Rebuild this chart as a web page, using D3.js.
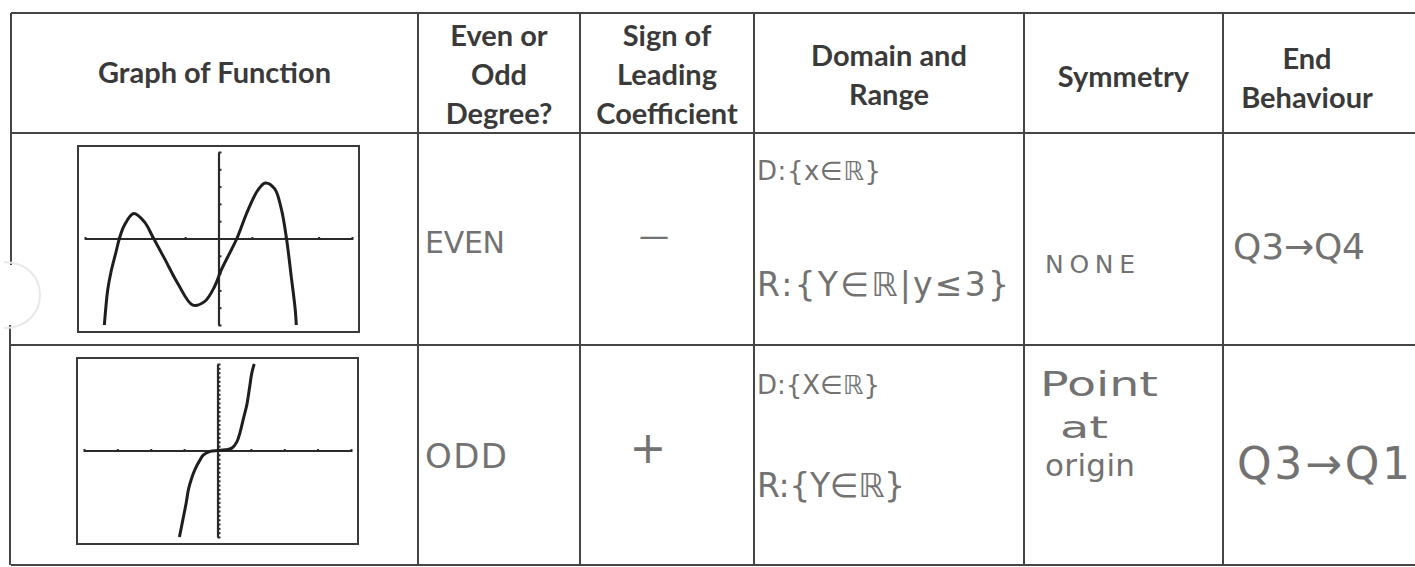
<html>
<head>
<script src="https://d3js.org/d3.v7.min.js"></script>
<style>
  body {margin:0; background:#fff;}
  .head {font-family: Lato, "Open Sans", sans-serif; font-weight:bold; font-size:29px; fill:#3a3a3a; text-anchor:middle;}
  .hand {font-family: "DejaVu Sans", sans-serif; font-weight:normal; fill:#727272;}
  .grid {stroke:#454545; stroke-width:2;}
</style>
</head>
<body>
<svg id="chart" width="1415" height="567"></svg>
<script>
// column headers (one entry per line)
var headers = [
  ["Graph of Function"],
  ["Even or", "Odd", "Degree?"],
  ["Sign of", "Leading", "Coefficient"],
  ["Domain and", "Range"],
  ["Symmetry"],
  ["End", "Behaviour"]
];

// handwritten answers, row 1 then row 2
var degree = ["EVEN", "ODD"];
var sign = ["\u2014", "+"];
var domainTxt = ["D:{x\u2208\u211D}", "D:{X\u2208\u211D}"];
var rangeTxt = ["R:{Y\u2208\u211D|y\u22643}", "R:{Y\u2208\u211D}"];
var symmetry = [["NONE"], ["Point", "at", "origin"]];
var endBehaviour = ["Q3\u2192Q4", "Q3\u2192Q1"];

// points (x, y in window units)
var quarticPts = [[-3.42,-5],[-3.32,-2.98],[-3.22,-1.92],[-3.07,-0.77],[-2.97,0],[-2.82,0.77],
  [-2.54,1.44],[-2.22,0.96],[-1.97,0.1],[-1.62,-1.15],[-1.22,-2.6],[-0.77,-3.85],[-0.42,-3.65],
  [-0.12,-2.79],[0.08,-1.83],[0.38,-0.67],[0.55,0],[0.88,1.63],[1.18,2.79],[1.4,3.21],
  [1.68,2.88],[1.88,1.73],[2.03,0.1],[2.18,-2.2],[2.3,-4.13],[2.33,-5]];
var cubicPts = [[-1.14,-20],[-1.04,-16.1],[-0.94,-12.2],[-0.87,-9],[-0.77,-6.3],[-0.67,-4.3],
  [-0.54,-2.4],[-0.42,-1],[-0.22,-0.2],[0,0],[0.23,0.15],[0.43,0.55],[0.58,2],[0.68,4.3],
  [0.78,7.5],[0.88,10.6],[0.96,14.5],[1.03,18],[1.1,20]];

// calculator windows
var xWin = [-4, 4];
var yWin1 = [-5, 5];
var yWin2 = [-20, 20];

var svg = d3.select("#chart");

// table layout
var cols = [11, 418, 580, 754, 1024, 1223, 1420];
var rows = [13, 133, 345, 565];

svg.append("rect").attr("width",1415).attr("height",567).attr("fill","#fff");

// horizontal rules
rows.forEach(function(y){
  svg.append("line").attr("class","grid").attr("x1",cols[0]).attr("x2",1415).attr("y1",y).attr("y2",y);
});
// inner vertical rules
cols.slice(1,6).forEach(function(x){
  svg.append("line").attr("class","grid").attr("x1",x).attr("x2",x).attr("y1",rows[0]).attr("y2",rows[3]);
});
// left border, broken by the punch hole
svg.append("line").attr("class","grid").attr("x1",11).attr("x2",11).attr("y1",13).attr("y2",265);
svg.append("line").attr("class","grid").attr("x1",10).attr("x2",10).attr("y1",325).attr("y2",565);
var hole = d3.path();
hole.moveTo(4,262);
hole.bezierCurveTo(52,262,52,328,4,328);
svg.append("path").attr("d",hole.toString()).attr("fill","none").attr("stroke","#e8e8e8").attr("stroke-width",2);

// headers
var headBase = [[83],[46,85,124],[46,85,124],[66,105],[87],[69,108]];
headers.forEach(function(lines,i){
  var cx = (cols[i] + cols[i+1]) / 2;
  if (i == 5) cx = 1307;
  lines.forEach(function(t,j){
    svg.append("text").attr("class","head").attr("x",cx).attr("y",headBase[i][j]).text(t);
  });
});

// calculator graphs
function drawGraph(box, yWin, yTick, pts) {
  var g = svg.append("g");
  g.append("rect").attr("x",box.x).attr("y",box.y).attr("width",box.w).attr("height",box.h)
    .attr("fill","#fff").attr("stroke","#3a3a3a").attr("stroke-width",2);
  var x = d3.scaleLinear().domain(xWin).range([box.x+7, box.x+box.w-7]);
  var y = d3.scaleLinear().domain(yWin).range([box.y+box.h-7, box.y+6]);

  var xAxis = d3.axisBottom(x).tickValues(d3.range(xWin[0], xWin[1]+1, 1)).tickSize(3).tickSizeOuter(0).tickFormat("");
  var ya = g.append("g").attr("transform","translate(0,"+y(0)+")").call(xAxis);
  var yAxis = d3.axisRight(y).tickValues(d3.range(yWin[0], yWin[1]+yTick, yTick)).tickSize(3).tickSizeOuter(0).tickFormat("");
  var yb = g.append("g").attr("transform","translate("+x(0)+",0)").call(yAxis);
  [ya, yb].forEach(function(a){
    a.select(".domain").attr("stroke","#2a2a2a").attr("stroke-width",2.2);
    a.selectAll(".tick line").attr("stroke","#2a2a2a").attr("stroke-width",2);
  });
  ya.selectAll(".tick line").attr("y1",-1.5).attr("y2",1.5);

  var line = d3.line().x(function(d){return x(d[0]);}).y(function(d){return y(d[1]);}).curve(d3.curveCatmullRom);
  g.append("path").datum(pts).attr("d",line).attr("fill","none")
    .attr("stroke","#1e1e1e").attr("stroke-width",3);
}
drawGraph({x:78, y:146, w:281, h:186}, yWin1, 1, quarticPts);
drawGraph({x:77, y:358, w:281, h:186}, yWin2, 1, cubicPts);

// handwritten cells
function hand(t, x, y, size, len, adj) {
  var el = svg.append("text").attr("class","hand").attr("x",x).attr("y",y)
    .attr("font-size",size).text(t);
  if (len) el.attr("textLength",len).attr("lengthAdjust",adj || "spacing");
  return el;
}
hand(degree[0], 425, 253, 30, 80);
hand(degree[1], 425, 468, 34, 82);
hand(sign[0], 654, 246, 30).attr("text-anchor","middle");
hand(sign[1], 648, 463, 44).attr("text-anchor","middle");
hand(domainTxt[0], 757, 180, 26, 124);
hand(domainTxt[1], 757, 394, 26, 123);
hand(rangeTxt[0], 757, 296, 33, 252);
hand(rangeTxt[1], 757, 497, 33, 148);
hand(symmetry[0][0], 1045, 273, 25, 90);
hand(symmetry[1][0], 1040, 396, 34, 118, "spacingAndGlyphs");
hand(symmetry[1][1], 1060, 438, 30, 48, "spacingAndGlyphs");
hand(symmetry[1][2], 1045, 476, 31, 90);
hand(endBehaviour[0], 1233, 259, 36, 132);
hand(endBehaviour[1], 1237, 479, 44, 173);
</script>
</body>
</html>
